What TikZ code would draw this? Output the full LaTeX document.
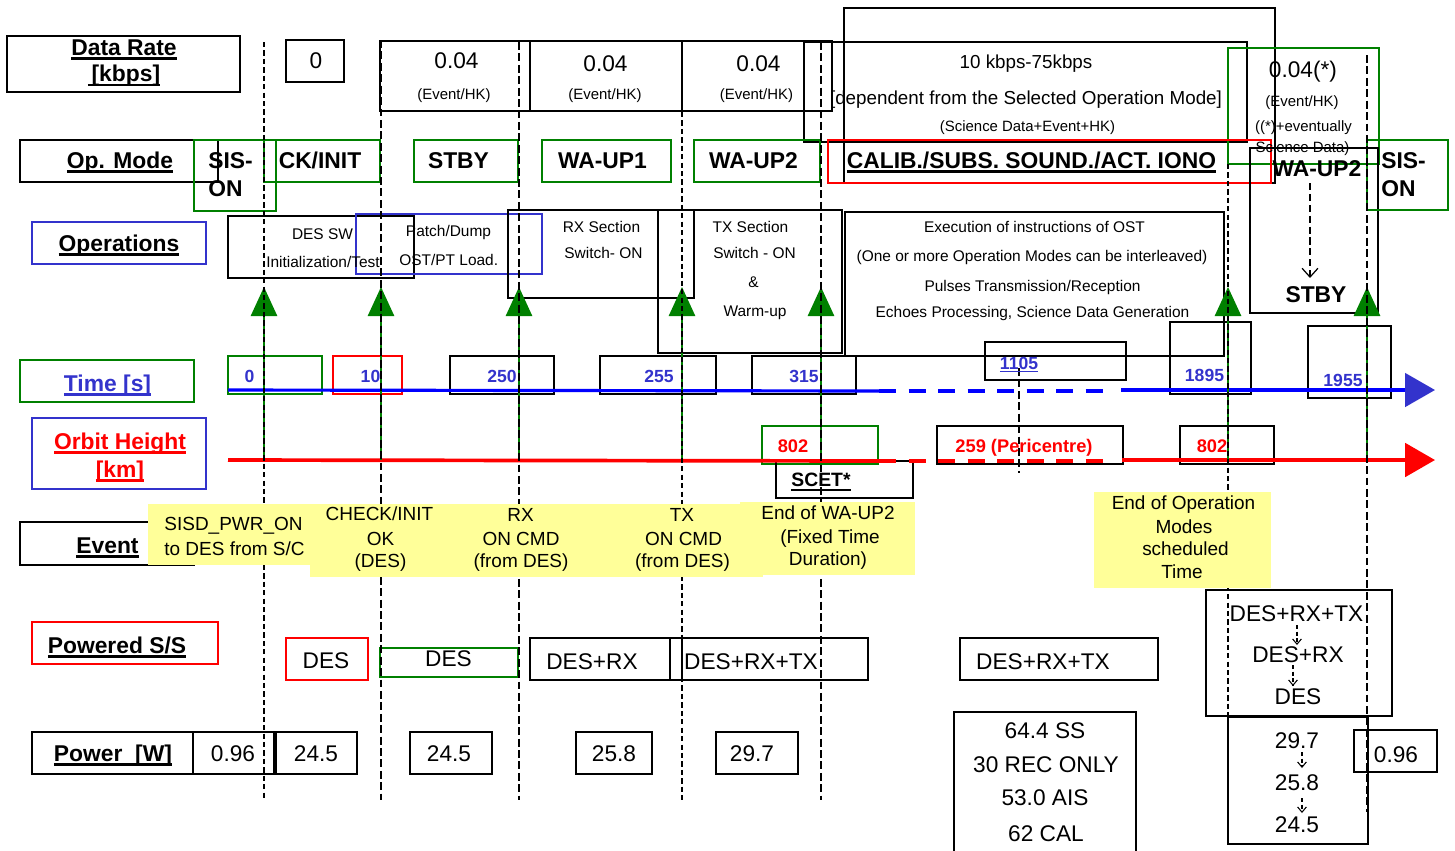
\documentclass[tikz,border=0pt]{standalone}
\usepackage{fontspec}
\setmainfont{Liberation Sans}
\usetikzlibrary{arrows.meta}
\definecolor{gr}{RGB}{0,128,0}
\definecolor{bb}{RGB}{51,51,204}
\definecolor{rd}{RGB}{255,0,0}
\definecolor{yl}{RGB}{255,255,153}
\definecolor{bline}{RGB}{0,0,255}
\newcommand\myul[1]{\setbox0\hbox{#1}\rlap{\raisebox{-0.21em}{\rule{\wd0}{0.11em}}}\box0}
\newcommand\thinul[1]{\setbox0\hbox{#1}\rlap{\raisebox{-0.16em}{\rule{\wd0}{0.06em}}}\box0}
\newcommand\rbox[5]{\draw[box,#1] (#2,#3) rectangle (#4,#5);}
\begin{document}
\begin{tikzpicture}[x=0.02cm,y=-0.02cm,
 box/.style={line width=0.75pt},
 tx/.style={inner sep=0pt,text depth=0pt},
 Lb/.style={tx,font=\bfseries\fontsize{13}{15}\selectfont,text height=9.3pt},
 Rg/.style={tx,font=\fontsize{12.9}{15}\selectfont,text height=9.2pt},
 Ev/.style={tx,font=\fontsize{10.8}{13}\selectfont,text height=7.75pt},
 Sm/.style={tx,font=\fontsize{8.5}{10}\selectfont,text height=6.1pt},
 Op/.style={tx,font=\fontsize{8.8}{10}\selectfont,text height=6.3pt},
 Md/.style={tx,font=\fontsize{10.7}{12}\selectfont,text height=7.65pt},
 Tm/.style={tx,font=\bfseries\fontsize{10}{12}\selectfont,text height=7.2pt,text=bb},
 Ob/.style={tx,font=\bfseries\fontsize{10.4}{12}\selectfont,text height=7.45pt,text=rd},
 Sc/.style={tx,font=\bfseries\fontsize{11}{13}\selectfont,text height=7.9pt},
 garrow/.style={gr,line width=0.8pt,-{Triangle[length=16.5pt,width=15pt]}},
 vthin/.style={line width=0.6pt,dash pattern=on 3pt off 1.8pt},
 vthick/.style={line width=1.4pt,dash pattern=on 4.5pt off 2pt},
 sarrow/.style={line width=1.1pt,dash pattern=on 2.5pt off 1.2pt,-{Straight Barb[line width=0.6pt,length=3pt,width=5pt]}}
]
\useasboundingbox (0,0) rectangle (1455,850);

% ---------- boxes: left labels
\rbox{}{7}{36}{240}{92}
\rbox{}{20}{140}{218}{182}
\rbox{bb}{32}{222}{206}{264}
\rbox{gr}{20}{360}{194}{402}
\rbox{bb}{32}{418}{206}{489}
\rbox{}{20}{522}{194}{565}
\rbox{rd}{32}{622}{218}{664}
\rbox{}{32}{732}{193}{774}
% data rate
\rbox{}{286}{40}{344}{82}
\rbox{}{380}{41}{530}{111}
\rbox{}{530}{41}{682}{111}
\rbox{}{682}{41}{832}{111}
\rbox{}{804}{42}{1247}{142}
\rbox{}{844}{8}{1275}{183}
\rbox{gr}{1228}{48}{1379}{164}
% op mode
\rbox{gr}{194}{140}{276}{211}
\rbox{gr}{264}{140}{380}{182}
\rbox{gr}{414}{140}{518}{182}
\rbox{gr}{542}{140}{671}{182}
\rbox{gr}{694}{140}{820}{182}
\rbox{rd}{828}{140}{1271}{183}
\rbox{}{1250}{148}{1378}{313}
\rbox{gr}{1367}{140}{1448}{210}
% operations
\rbox{}{228}{216}{414}{278}
\rbox{bb}{356}{214}{542}{274}
\rbox{}{508}{210}{694}{298}
\rbox{}{658}{210}{842}{353}
\rbox{}{845}{212}{1224}{356}
% time
\rbox{gr}{228}{356}{322}{394}
\rbox{rd}{333}{356}{402}{394}
\rbox{}{450}{356}{554}{394}
\rbox{}{600}{356}{716}{394}
\rbox{}{752}{356}{856}{394}
\rbox{}{985}{342}{1126}{380}
\rbox{}{1170}{322}{1251}{394}
\rbox{}{1308}{326}{1391}{398}
% orbit
\rbox{gr}{762}{426}{878}{464}
\rbox{}{776}{461}{913}{498}
\rbox{}{937}{426}{1123}{464}
\rbox{}{1180}{426}{1274}{464}
% powered
\rbox{rd}{286}{638}{368}{680}
\rbox{gr}{380}{648}{518}{677}
\rbox{}{530}{638}{682}{680}
\rbox{}{670}{638}{868}{680}
\rbox{}{960}{638}{1158}{680}
\rbox{}{1206}{590}{1392}{716}
% power
\rbox{}{193}{732}{274}{774}
\rbox{}{276}{732}{357}{774}
\rbox{}{410}{732}{492}{774}
\rbox{}{576}{732}{652}{774}
\rbox{}{716}{732}{798}{774}
\rbox{}{954}{712}{1136}{856}
\rbox{}{1228}{717}{1368}{844}
\rbox{}{1354}{730}{1437}{772}

% ---------- axes
\coordinate (bs) at (228,390);
\coordinate (bd1) at (879,391);
\coordinate (bd2) at (1112,391);
\coordinate (bs2) at (1121,390);
\coordinate (be) at (1435,390);
\draw[bline,line width=1.8pt] (bs) -- (bd1);
\draw[bline,line width=2.3pt,dash pattern=on 9.8pt off 7pt] (bd1) -- (bd2);
\draw[bline,line width=1.8pt,-{Triangle[length=17pt,width=19pt,color=bb]}] (bs2) -- (be);
\coordinate (rs) at (228,460);
\coordinate (rd1) at (879,461);
\coordinate (rd2) at (1112,461);
\coordinate (rs2) at (1122,460);
\coordinate (re) at (1435,460);
\draw[rd,line width=2.1pt] (rs) -- (rd1);
\draw[rd,line width=2.3pt,dash pattern=on 9.8pt off 7pt] (rd1) -- (rd2);
\draw[rd,line width=2.1pt,-{Triangle[length=17pt,width=19pt]}] (rs2) -- (re);

% ---------- green event arrows
\foreach \i/\x in {1/264,2/381,3/519,4/682,5/821,6/1228,7/1367}{
  \coordinate (ga\i) at (\x,460);
  \coordinate (gb\i) at (\x,287);
  \draw[garrow] (ga\i) -- (gb\i);
}

% ---------- dashed verticals
\coordinate (v1a) at (264,42);  \coordinate (v1b) at (264,800);
\coordinate (v2a) at (381,40);  \coordinate (v2b) at (381,800);
\coordinate (v3a) at (519,42);  \coordinate (v3b) at (519,800);
\coordinate (v4a) at (682,112); \coordinate (v4b) at (682,800);
\coordinate (v5a) at (821,42);  \coordinate (v5b) at (821,800);
\coordinate (v6a) at (1019,368);\coordinate (v6b) at (1019,473);
\coordinate (v7a) at (1228,164);\coordinate (v7b) at (1228,717);
\coordinate (v8a) at (1367,55); \coordinate (v8b) at (1367,812);
\draw[vthin] (v1a) -- (v1b);
\draw[vthick] (v2a) -- (v2b);
\draw[vthick] (v3a) -- (v3b);
\draw[vthin] (v4a) -- (v4b);
\draw[vthick] (v5a) -- (v5b);
\draw[vthick] (v6a) -- (v6b);
\draw[vthin] (v7a) -- (v7b);
\draw[vthick] (v8a) -- (v8b);

% ---------- yellow event boxes
\fill[yl] (148,504) rectangle (310,565);
\fill[yl] (310,504) rectangle (763,577);
\fill[yl] (740,502) rectangle (915,575);
\fill[yl] (1094,492) rectangle (1271,588);

% ---------- left labels
\node[Lb] (ldr1) at (124,47) {\myul{Data Rate}};
\node[Lb] (ldr2) at (124,73.5) {\myul{\,[kbps]}};
\node[Lb] (lop) at (120,160) {\myul{Op. Mode}};
\node[Lb] (lops) at (119,243) {\myul{Operations}};
\node[Lb,text=bb] (ltime) at (107.5,383) {\myul{Time [s]}};
\node[Lb,text=rd] (lorb1) at (120,441) {\myul{Orbit Height}};
\node[Lb,text=rd] (lorb2) at (120,469) {\myul{[km]}};
\node[Lb] (lev) at (107.5,545) {\myul{Event}};
\node[Lb] (lpss) at (117,645) {\myul{Powered S/S}};
\node[Lb] (lpw) at (113,753) {\myul{Power\ \ [W]}};

% ---------- data rate texts
\node[Rg] (dr0) at (316,60) {0};
\node[Rg] (dr1) at (456.5,60) {0.04};
\node[Sm] (dr1b) at (454,94.5) {(Event/HK)};
\node[Rg] (dr2) at (605.5,63.5) {0.04};
\node[Sm] (dr2b) at (605,94.5) {(Event/HK)};
\node[Rg] (dr3) at (758.5,63.5) {0.04};
\node[Sm] (dr3b) at (756.5,94.5) {(Event/HK)};
\node[Md] (dr4a) at (1026,61.5) {10 kbps-75kbps};
\node[Md] (dr4b) at (1026,97.5) {[dependent from the Selected Operation Mode]};
\node[Sm] (dr4c) at (1027.5,126) {(Science Data+Event+HK)};
\node[Rg] (dr5a) at (1303,69) {0.04(*)};
\node[Sm] (dr5b) at (1302,101) {(Event/HK)};
\node[Sm] (dr5c) at (1303.5,126.5) {((*)+eventually};
\node[Sm] (dr5d) at (1302.5,147) {Science Data)};

% ---------- op mode texts
\node[Lb,anchor=west] (om1a) at (208,160) {SIS-};
\node[Lb,anchor=west] (om1b) at (208,188) {ON};
\node[Lb] (om2) at (320,160) {CK/INIT};
\node[Lb] (om3) at (458.5,160) {STBY};
\node[Lb] (om4) at (602.5,160) {WA-UP1};
\node[Lb] (om5) at (753.5,160) {WA-UP2};
\node[Lb] (om6) at (1031.5,160) {\myul{CALIB./SUBS. SOUND./ACT. IONO}};
\node[Lb] (om7) at (1317,168.5) {WA-UP2};
\node[Lb] (om8) at (1316,294.5) {STBY};
\node[Lb,anchor=west] (om9a) at (1381,160) {SIS-};
\node[Lb,anchor=west] (om9b) at (1381,188) {ON};
\coordinate (wa1) at (1310,183);
\coordinate (wa2) at (1310,278);
\draw[line width=1.3pt,dash pattern=on 4pt off 2.2pt,-{Straight Barb[line width=0.7pt,length=5pt,width=9pt]}] (wa1) -- (wa2);

% ---------- operations texts
\node[Op] (op1a) at (322.5,234) {DES SW};
\node[Op] (op1b) at (323,262) {Initialization/Test};
\node[Op] (op2a) at (448.5,231) {Patch/Dump};
\node[Op] (op2b) at (448.7,259.5) {OST/PT Load.};
\node[Op] (op3a) at (601.5,227) {RX Section};
\node[Op] (op3b) at (603.5,253) {Switch- ON};
\node[Op] (op4a) at (750.5,227) {TX Section};
\node[Op] (op4b) at (754.5,253) {Switch - ON};
\node[Op] (op4c) at (753.5,281.5) {\&};
\node[Op] (op4d) at (755,311) {Warm-up};
\node[Op] (op5a) at (1034.5,227) {Execution of instructions of OST};
\node[Op] (op5b) at (1032,256) {(One or more Operation Modes can be interleaved)};
\node[Op] (op5c) at (1032.5,286) {Pulses Transmission/Reception};
\node[Op] (op5d) at (1032.5,311.5) {Echoes Processing, Science Data Generation};

% ---------- time texts
\node[Tm] (tm1) at (249.5,376.5) {0};
\node[Tm] (tm2) at (370.5,376.5) {10};
\node[Tm] (tm3) at (502,376.5) {250};
\node[Tm] (tm4) at (659,376.5) {255};
\node[Tm] (tm5) at (804,376.5) {315};
\node[Tm] (tm6) at (1019,363) {\thinul{1105}};
\node[Tm] (tm7) at (1204.5,375.5) {1895};
\node[Tm] (tm8) at (1343,380) {1955};

% ---------- orbit texts
\node[Ob] (ob1) at (793,446) {802};
\node[Ob] (ob2) at (1024,446) {259 (Pericentre)};
\node[Ob] (ob3) at (1212,446) {802};
\node[Sc] (ob4) at (821,480) {\myul{SCET*}};

% ---------- event texts
\node[Ev] (ev1a) at (233.5,524) {SISD\_PWR\_ON};
\node[Ev] (ev1b) at (234.5,549) {to DES from S/C};
\node[Ev] (ev2a) at (379.5,514) {CHECK/INIT};
\node[Ev] (ev2b) at (380.5,538.5) {OK};
\node[Ev] (ev2c) at (380.5,560.5) {(DES)};
\node[Ev] (ev3a) at (520.5,514.5) {RX};
\node[Ev] (ev3b) at (521,538.5) {ON CMD};
\node[Ev] (ev3c) at (521,560.5) {(from DES)};
\node[Ev] (ev4a) at (682,514.5) {TX};
\node[Ev] (ev4b) at (683.5,539) {ON CMD};
\node[Ev] (ev4c) at (682.5,560.5) {(from DES)};
\node[Ev] (ev5a) at (828,513) {End of WA-UP2};
\node[Ev] (ev5b) at (830,537) {(Fixed Time};
\node[Ev] (ev5c) at (828,559) {Duration)};
\node[Ev] (ev6a) at (1183.5,502.5) {End of Operation};
\node[Ev] (ev6b) at (1184,526.5) {Modes};
\node[Ev] (ev6c) at (1185.5,549) {scheduled};
\node[Ev] (ev6d) at (1182,572) {Time};

% ---------- powered S/S texts
\node[Rg] (ps1) at (326,660.5) {DES};
\node[Rg] (ps2) at (448.5,658.5) {DES};
\node[Rg] (ps3) at (592,661) {DES+RX};
\node[Rg] (ps4) at (751,661) {DES+RX+TX};
\node[Rg] (ps5) at (1043,661) {DES+RX+TX};
\node[Rg] (ps6a) at (1296.5,613) {DES+RX+TX};
\node[Rg] (ps6b) at (1298,654.5) {DES+RX};
\node[Rg] (ps6c) at (1298,696) {DES};
\coordinate (pa1) at (1297,625); \coordinate (pa2) at (1297,645);
\coordinate (pa3) at (1293,665); \coordinate (pa4) at (1293,686);
\draw[sarrow] (pa1) -- (pa2);
\draw[sarrow] (pa3) -- (pa4);

% ---------- power texts
\node[Rg] (pw1) at (233,753) {0.96};
\node[Rg] (pw2) at (316,753) {24.5};
\node[Rg] (pw3) at (449,753) {24.5};
\node[Rg] (pw4) at (614,753) {25.8};
\node[Rg] (pw5) at (752,753) {29.7};
\node[Rg] (pw6a) at (1045,730) {64.4 SS};
\node[Rg] (pw6b) at (1046,764) {30 REC ONLY};
\node[Rg] (pw6c) at (1045,797.5) {53.0 AIS};
\node[Rg] (pw6d) at (1046,833) {62 CAL};
\node[Rg] (pw7a) at (1297,740) {29.7};
\node[Rg] (pw7b) at (1297,782.5) {25.8};
\node[Rg] (pw7c) at (1297,824.5) {24.5};
\node[Rg] (pw8) at (1396,754.5) {0.96};
\coordinate (pb1) at (1302,752); \coordinate (pb2) at (1302,768);
\coordinate (pb3) at (1302,798); \coordinate (pb4) at (1302,813);
\draw[sarrow] (pb1) -- (pb2);
\draw[sarrow] (pb3) -- (pb4);
\end{tikzpicture}
\end{document}
